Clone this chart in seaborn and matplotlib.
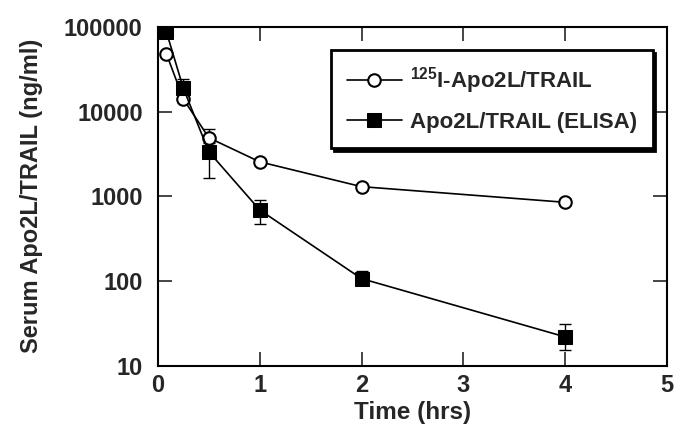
import matplotlib
matplotlib.use("Agg")
import matplotlib.pyplot as plt
import numpy as np
import pandas as pd
import seaborn as sns

# time points (hrs)
time_hrs = [0.083, 0.25, 0.5, 1, 2, 4]

# 125I-Apo2L/TRAIL (open circles)
iodo_mean = [48000, 14000, 4900, 2550, 1300, 850]
iodo_lo = [48000, 14000, 4900, 2550, 1300, 800]
iodo_hi = [48000, 15500, 6300, 2550, 1300, 900]

# Apo2L/TRAIL ELISA (filled squares)
elisa_mean = [87000, 18700, 3350, 690, 107, 22]
elisa_lo = [87000, 18700, 1650, 475, 96, 15.3]
elisa_hi = [87000, 24000, 4300, 910, 130, 30.8]

label_iodo = r"$^{125}$I-Apo2L/TRAIL"
label_elisa = "Apo2L/TRAIL (ELISA)"

sns.set_style("ticks")
plt.rcParams["font.family"] = ["Liberation Sans", "DejaVu Sans"]
plt.rcParams["mathtext.fontset"] = "custom"
plt.rcParams["mathtext.rm"] = "Liberation Sans:bold"
plt.rcParams["mathtext.bf"] = "Liberation Sans:bold"

df_iodo = pd.DataFrame({"t": time_hrs, "y": iodo_mean})
df_elisa = pd.DataFrame({"t": time_hrs, "y": elisa_mean})

fig = plt.figure(figsize=(6.75, 4.24), dpi=100)
ax = fig.add_axes([0.234, 0.137, 0.754, 0.8])

# error bars first so markers sit on top
for mean, lo, hi in [(iodo_mean, iodo_lo, iodo_hi), (elisa_mean, elisa_lo, elisa_hi)]:
    m = np.array(mean, dtype=float)
    yerr = [m - np.array(lo), np.array(hi) - m]
    ax.errorbar(time_hrs, m, yerr=yerr, fmt="none", ecolor="black",
                elinewidth=1.0, capsize=4, capthick=1.0, zorder=2)

sns.lineplot(data=df_iodo, x="t", y="y", ax=ax, color="black", linewidth=1.2,
             marker="o", markersize=9, markerfacecolor="white",
             markeredgecolor="black", markeredgewidth=1.5, label=label_iodo, zorder=3)
sns.lineplot(data=df_elisa, x="t", y="y", ax=ax, color="black", linewidth=1.2,
             marker="s", markersize=10, markerfacecolor="black",
             markeredgecolor="black", label=label_elisa, zorder=4)

ax.set_yscale("log")
ax.set_xlim(0, 5)
ax.set_ylim(10, 100000)
ax.set_xticks([0, 1, 2, 3, 4, 5])
ax.set_yticks([10, 100, 1000, 10000, 100000])
ax.set_yticklabels(["10", "100", "1000", "10000", "100000"])
ax.yaxis.set_minor_locator(matplotlib.ticker.NullLocator())
ax.tick_params(direction="in", length=10, width=1.2, top=True, right=True,
               labelsize=17)
ax.tick_params(axis="x", pad=6)
ax.tick_params(axis="y", pad=11)
for lab in ax.get_xticklabels() + ax.get_yticklabels():
    lab.set_fontweight("bold")
for sp in ax.spines.values():
    sp.set_linewidth(1.5)
    sp.set_color("black")

ax.set_xlabel("Time (hrs)", fontsize=17.5, fontweight="bold", labelpad=3)
ax.set_ylabel("Serum Apo2L/TRAIL (ng/ml)", fontsize=17, fontweight="bold", labelpad=15)

leg = ax.legend(loc="upper right", bbox_to_anchor=(0.972, 0.932), fancybox=False,
                frameon=True, edgecolor="black", handlelength=2.5,
                borderpad=0.7, labelspacing=0.7, handletextpad=0.35,
                borderaxespad=0.0,
                prop={"size": 16, "weight": "bold"},
                shadow={"color": "black", "alpha": 1.0})
leg.get_frame().set_linewidth(2.0)
leg.get_frame().set_alpha(1.0)

fig.savefig("out.png", dpi=100)
